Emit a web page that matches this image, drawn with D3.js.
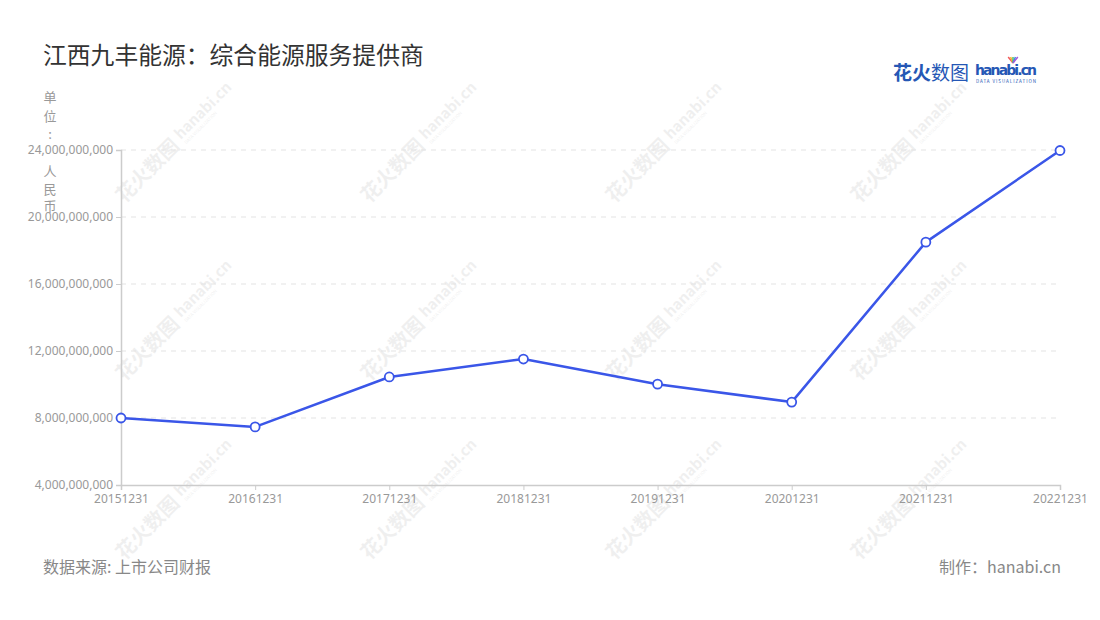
<!DOCTYPE html>
<html><head><meta charset="utf-8">
<script src="https://cdn.jsdelivr.net/npm/d3@7/dist/d3.min.js"></script>
<style>
body{margin:0;background:#fff;}
svg{display:block;font-family:"Noto Sans CJK SC","Noto Sans",sans-serif;}
</style></head>
<body>
<svg id="c" width="1100" height="620"></svg>
<script>
const categories = ["20151231","20161231","20171231","20181231","20191231","20201231","20211231","20221231"];
const values = [8.0e9, 7.47e9, 10.45e9, 11.52e9, 10.02e9, 8.95e9, 18.5e9, 23.97e9];
const yTicks = [4e9, 8e9, 12e9, 16e9, 20e9, 24e9];
const title = "江西九丰能源：综合能源服务提供商";
const unitChars = ["单","位","：","人","民","币"];
const source = "数据来源: 上市公司财报";
const credit = "制作：hanabi.cn";

const svg = d3.select("#c");
const m = {l:121, r:1060, t:150, b:485};

// watermarks
const wmX = [180, 425, 670, 915], wmY = [138, 316, 495];
wmY.forEach(yy => wmX.forEach(xx => {
  const g = svg.append("g").attr("transform", `translate(${xx},${yy}) rotate(-45)`).attr("opacity", 0.07);
  g.append("text").attr("x", -6).attr("y", 7).attr("text-anchor","end")
    .attr("font-size", 20).attr("font-weight", 700).attr("fill", "#333").text("花火数图");
  g.append("text").attr("x", -1).attr("y", 2).attr("text-anchor","start")
    .attr("font-size", 15).attr("font-weight", 700).attr("fill", "#333").text("hanabi.cn");
  g.append("text").attr("x", 0).attr("y", 9).attr("text-anchor","start")
    .attr("font-size", 4.5).attr("fill", "#333").text("DATA VISUALIZATION");
}));

const x = d3.scalePoint().domain(categories).range([m.l, m.r]);
const y = d3.scaleLinear().domain([4e9, 24e9]).range([m.b, m.t]);

// grid
svg.append("g").selectAll("line").data(yTicks.filter(d => d > 4e9)).join("line")
  .attr("x1", m.l).attr("x2", m.r).attr("y1", d => y(d)).attr("y2", d => y(d))
  .attr("stroke", "#e3e3e3").attr("stroke-dasharray", "5,5").attr("stroke-width", 1);

// y axis
const yAxis = svg.append("g").attr("transform", `translate(${m.l},0)`)
  .call(d3.axisLeft(y).tickValues(yTicks).tickSize(5).tickPadding(3).tickFormat(d3.format(",")));
yAxis.select(".domain").attr("stroke", "#ccc").attr("stroke-width", 1.5);
yAxis.selectAll(".tick line").attr("stroke", "#ccc");
yAxis.selectAll("text").attr("fill", "#999").attr("font-size", 12)
  .attr("font-family", "'Noto Sans', sans-serif");

// x axis
const xAxis = svg.append("g").attr("transform", `translate(0,${m.b})`)
  .call(d3.axisBottom(x).tickSize(5).tickPadding(4));
xAxis.select(".domain").attr("stroke", "#ccc").attr("stroke-width", 1.5);
xAxis.selectAll(".tick line").attr("stroke", "#ccc");
xAxis.selectAll("text").attr("fill", "#999").attr("font-size", 12)
  .attr("font-family", "'Noto Sans', sans-serif");

// unit label
const unitY = [96, 115, 133, 170, 188, 205];
svg.append("g").selectAll("text").data(unitChars).join("text")
  .attr("x", 50).attr("y", (d,i) => unitY[i]).attr("text-anchor","middle").attr("dominant-baseline","central")
  .attr("font-size", 13).attr("fill", "#999").text(d => d === "：" ? ":" : d);

// line
const line = d3.line().x((d,i) => x(categories[i])).y(d => y(d));
svg.append("path").datum(values).attr("d", line).attr("fill","none")
  .attr("stroke", "#3a56e8").attr("stroke-width", 2.5).attr("stroke-linejoin","round");
svg.append("g").selectAll("circle").data(values).join("circle")
  .attr("cx", (d,i) => x(categories[i])).attr("cy", d => y(d)).attr("r", 4.5)
  .attr("fill", "#fff").attr("stroke", "#3a56e8").attr("stroke-width", 1.8);

// title
svg.append("text").attr("x", 43).attr("y", 64).attr("font-size", 23.8).attr("fill", "#333").text(title);

// logo
svg.append("text").attr("x", 893).attr("y", 80).attr("font-size", 19).attr("font-weight", 700)
  .attr("fill", "#2557b5").text("花火");
svg.append("text").attr("x", 931).attr("y", 80).attr("font-size", 19).attr("font-weight", 400)
  .attr("fill", "#2557b5").text("数图");
svg.append("text").attr("x", 975).attr("y", 75).attr("font-size", 14).attr("font-weight", 700)
  .attr("fill", "#2557b5").attr("font-family","'DejaVu Sans',sans-serif").attr("textLength", 62).text("hanabi.cn");
svg.append("text").attr("x", 976).attr("y", 82.5).attr("font-size", 4.5).attr("fill", "#2557b5")
  .attr("textLength", 60).text("DATA VISUALIZATION");
const fw = [["#f15a5a",-4],["#f7b733",-2],["#4cc06a",0],["#3a8ee6",2],["#a25ad9",4]];
fw.forEach(([c,a]) => svg.append("line").attr("x1",1013).attr("y1",63).attr("x2",1013+a*1.2).attr("y2",57)
  .attr("stroke",c).attr("stroke-width",1.5));

// footer
svg.append("text").attr("x", 43).attr("y", 573).attr("font-size", 16).attr("fill", "#888").text(source);
svg.append("text").attr("x", 1061).attr("y", 573).attr("text-anchor","end").attr("font-size", 16).attr("fill", "#888").text(credit);
</script>
</body></html>
